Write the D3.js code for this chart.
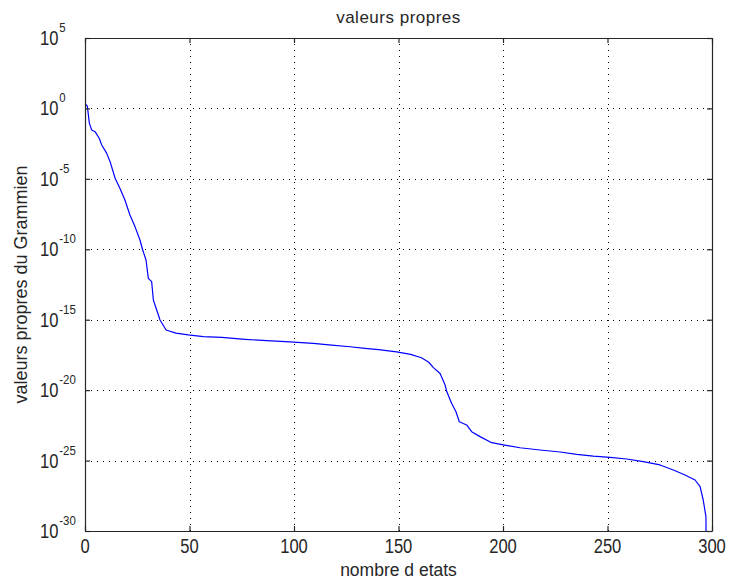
<!DOCTYPE html>
<html>
<head>
<meta charset="utf-8">
<script src="https://cdn.jsdelivr.net/npm/d3@7"></script>
<style>
  html, body { margin: 0; padding: 0; background: #ffffff; }
  svg { display: block; }
  text { font-family: "Liberation Sans", Arial, sans-serif; fill: #262626; }
</style>
</head>
<body>
<svg id="chart" width="729" height="581"></svg>
<script>
// ---- data ----
const stateIndex = [0.3, 1.1, 2.1, 3.2, 4.8, 6.8, 8.0, 10.4, 12, 14.4, 16.7, 19.1, 21.5, 23.9, 26.3, 27.6, 29.2, 30.3, 31.9, 32.7, 34.3, 35.9, 38.8, 43.5, 49.4, 56.6, 65.4, 76.6, 86.9, 98.1, 109.2, 118, 126.8, 134, 140.5, 149.1, 155.8, 161, 164.5, 166.7, 169.9, 172.2, 173.1, 175.4, 177.5, 179.1, 182.6, 185, 189, 194.6, 200.2, 208.1, 217.7, 227.3, 235.3, 243.2, 251.2, 259.2, 267.1, 275.1, 281.5, 287.1, 291.9, 294.3, 295.8, 297.1, 297.2];
const eigenExponent = [0.31, 0.17, -1.06, -1.53, -1.65, -2.12, -2.6, -3.19, -3.78, -4.96, -5.67, -6.5, -7.57, -8.39, -9.34, -10.05, -10.76, -12.06, -12.3, -13.6, -14.31, -15.02, -15.73, -15.95, -16.08, -16.2, -16.25, -16.39, -16.49, -16.58, -16.68, -16.8, -16.92, -17.03, -17.12, -17.28, -17.46, -17.7, -18.02, -18.4, -18.82, -19.6, -20.1, -20.93, -21.53, -22.24, -22.47, -22.95, -23.3, -23.73, -23.89, -24.09, -24.25, -24.39, -24.56, -24.68, -24.77, -24.89, -25.08, -25.31, -25.67, -26.02, -26.38, -26.85, -27.8, -28.98, -31];
const xTicks = [0, 50, 100, 150, 200, 250, 300];
const yTickExponents = [5, 0, -5, -10, -15, -20, -25, -30];
const titleText = "valeurs propres";
const xLabelText = "nombre d etats";
const yLabelText = "valeurs propres du Grammien";

const eigenValues = eigenExponent.map(e => Math.pow(10, e));
const data = stateIndex.map((x, i) => ({ x: x, v: eigenValues[i] }));

// ---- layout ----
const svg = d3.select("#chart");
const L = 85, R = 712, T = 38, B = 531;
const x = d3.scaleLinear().domain([0, 300]).range([L, R]);
const y = d3.scaleLog().domain([1e-30, 1e5]).range([B, T]);

const axisColor = "#262626";

svg.append("defs").append("clipPath").attr("id", "plotclip")
  .append("rect").attr("x", L).attr("y", T).attr("width", R - L).attr("height", B - T);

// grid
const grid = svg.append("g");
grid.selectAll("line.gx").data(xTicks.slice(1, -1)).join("line")
  .attr("x1", d => Math.round(x(d)) + 0.5).attr("x2", d => Math.round(x(d)) + 0.5)
  .attr("y1", T).attr("y2", B)
  .attr("stroke", "#000").attr("stroke-width", 1).attr("stroke-dasharray", "1,5");
grid.selectAll("line.gy").data(yTickExponents.slice(1, -1)).join("line")
  .attr("y1", d => Math.round(y(Math.pow(10, d))) + 0.5).attr("y2", d => Math.round(y(Math.pow(10, d))) + 0.5)
  .attr("x1", L).attr("x2", R)
  .attr("stroke", "#000").attr("stroke-width", 1).attr("stroke-dasharray", "1,5");

// line
const line = d3.line().x(d => x(d.x)).y(d => y(d.v));
svg.append("path").datum(data)
  .attr("clip-path", "url(#plotclip)")
  .attr("d", line)
  .attr("fill", "none").attr("stroke", "#0000ff").attr("stroke-width", 1.2)
  .attr("stroke-linejoin", "round");

// axes with inward ticks on all four sides
const tickLen = 5;
const yTickVals = yTickExponents.map(e => Math.pow(10, e));
const bottomAxis = d3.axisBottom(x).tickValues(xTicks).tickSizeInner(-tickLen).tickSizeOuter(0).tickFormat("");
const topAxis = d3.axisTop(x).tickValues(xTicks).tickSizeInner(-tickLen).tickSizeOuter(0).tickFormat("");
const leftAxis = d3.axisLeft(y).tickValues(yTickVals).tickSizeInner(-tickLen).tickSizeOuter(0).tickFormat("");
const rightAxis = d3.axisRight(y).tickValues(yTickVals).tickSizeInner(-tickLen).tickSizeOuter(0).tickFormat("");

function styleAxis(g) {
  g.selectAll("path").attr("stroke", axisColor).attr("stroke-width", 1.2);
  g.selectAll("line").attr("stroke", axisColor).attr("stroke-width", 1.2);
}
svg.append("g").attr("transform", `translate(0,${B})`).call(bottomAxis).call(styleAxis);
svg.append("g").attr("transform", `translate(0,${T})`).call(topAxis).call(styleAxis);
svg.append("g").attr("transform", `translate(${L},0)`).call(leftAxis).call(styleAxis);
svg.append("g").attr("transform", `translate(${R},0)`).call(rightAxis).call(styleAxis);

// x tick labels (narrow digits)
svg.append("g").selectAll("text").data(xTicks).join("text")
  .attr("transform", d => `translate(${x(d)},553) scale(0.85,1)`)
  .attr("text-anchor", "middle")
  .style("font-size", "19.5px")
  .text(d => d);

// y tick labels: 10 with superscript exponent
const yl = svg.append("g").selectAll("text").data(yTickExponents).join("text")
  .attr("transform", d => `translate(40,${y(Math.pow(10, d)) + 7}) scale(0.85,1)`)
  .style("font-size", "19.5px");
yl.append("tspan").text("10");
yl.append("tspan").attr("dy", -13).attr("dx", 1).style("font-size", "13.5px").text(d => d);

// title and labels
svg.append("text").attr("x", (L + R) / 2).attr("y", 23)
  .attr("text-anchor", "middle").style("font-size", "17px")
  .style("letter-spacing", "0.5px").text(titleText);
svg.append("text").attr("x", (L + R) / 2).attr("y", 576)
  .attr("text-anchor", "middle").style("font-size", "17.5px").text(xLabelText);
svg.append("text").attr("transform", `translate(27,${(T + B) / 2}) rotate(-90)`)
  .attr("text-anchor", "middle").style("font-size", "18px").text(yLabelText);
</script>
</body>
</html>
